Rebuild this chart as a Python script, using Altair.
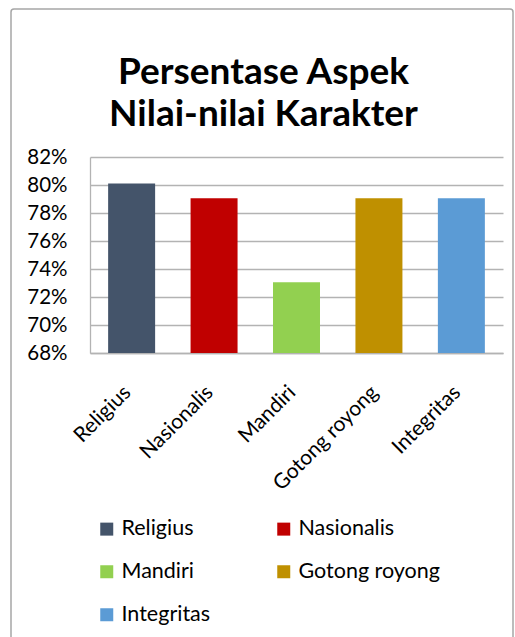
import altair as alt
import pandas as pd

categories = ["Religius", "Nasionalis", "Mandiri", "Gotong royong", "Integritas"]
values = [0.801, 0.7905, 0.7305, 0.7905, 0.7905]
colors = ["#44546A", "#C00000", "#92D050", "#BF9000", "#5B9BD5"]
y_ticks = [0.68, 0.70, 0.72, 0.74, 0.76, 0.78, 0.80, 0.82]

df = pd.DataFrame({"Aspek": categories, "Persen": values})

FONT = "Lato"

bars = alt.Chart(df).mark_bar().encode(
    x=alt.X("Aspek:N", sort=categories,
            scale=alt.Scale(paddingInner=0.43, paddingOuter=0.22),
            axis=alt.Axis(title=None, labelAngle=-45, labelAlign="right", labelBaseline="middle",
                          labelFontSize=21, labelFont=FONT, labelColor="#000000",
                          labelPadding=36, labelOffset=-4, ticks=False,
                          domainColor="#b3b3b3", domainWidth=1.3)),
    y=alt.Y("Persen:Q", scale=alt.Scale(domain=[0.68, 0.82], zero=False, nice=False),
            axis=alt.Axis(title=None, format=".0%", values=y_ticks, labelFontSize=20.5,
                          labelFont=FONT, labelColor="#000000", labelPadding=23, ticks=False,
                          gridColor="#b3b3b3", gridWidth=1.3, domainColor="#b3b3b3", domainWidth=1.3)),
    y2=alt.datum(0.68),
    color=alt.Color("Aspek:N", sort=categories,
                    scale=alt.Scale(domain=categories, range=colors),
                    legend=alt.Legend(title=None, orient="none", legendX=6, legendY=361,
                                      direction="horizontal", columns=2, columnPadding=62,
                                      rowPadding=20,
                                      symbolType="square", symbolSize=169, symbolStrokeWidth=0,
                                      labelFontSize=21.5, labelFont=FONT, labelColor="#000000",
                                      labelOffset=4)),
)

frame = alt.Chart(pd.DataFrame({"f": [0]})).mark_rect(
    fill=None, stroke="#a6a6a6", strokeWidth=1.5, cornerRadius=3
).encode(
    x=alt.value(-79), x2=alt.value(423), y=alt.value(-148), y2=alt.value(500)
)

chart = alt.layer(frame, bars).properties(
    width=413, height=196,
    autosize=alt.AutoSizeParams(type="none"),
    padding={"left": 90, "top": 157, "right": 12, "bottom": 284},
    title=alt.TitleParams(["Persentase Aspek", "Nilai-nilai Karakter"], font=FONT, fontSize=37,
                          fontWeight="bold", color="#000000", anchor="middle", frame="group",
                          dx=-33, offset=-126, lineHeight=42),
).configure_view(stroke=None)

chart.save("out.html", embed_options={"renderer": "svg", "actions": False})
